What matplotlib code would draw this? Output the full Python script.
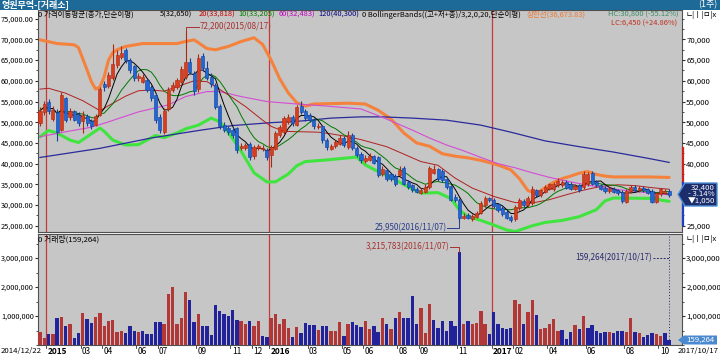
import datetime as dt
import numpy as np
import pandas as pd
import matplotlib
matplotlib.use('Agg')
import matplotlib.pyplot as plt
import matplotlib.transforms as mtrans
from matplotlib.patches import Rectangle, Polygon
from matplotlib.ticker import MultipleLocator

plt.rcParams['font.family'] = ['Noto Sans CJK KR', 'DejaVu Sans']

# weekly candles, first week 2014/12/22
start = dt.date(2014, 12, 22)
opens = [49800, 52500, 54800, 50800, 52500, 48200, 55800, 51200, 52600, 51800,
         50200, 51500, 50200, 49400, 51800, 59200, 58700, 60800, 63800, 65800,
         67400, 65000, 63500, 60600, 59800, 60200, 58600, 56600, 51300, 47700,
         53300, 57800, 58600, 59800, 61000, 64600, 61800, 58000, 66000, 63200,
         61000, 59000, 54000, 49400, 48600, 48200, 48500, 43800, 43800, 44800,
         41800, 43800, 43500, 43400, 42000, 43500, 46800, 47700, 50000, 51300,
         49400, 54000, 52600, 51800, 50600, 48800, 49000, 45800, 43600, 44200,
         44800, 46200, 44000, 47000, 43700, 42400, 40600, 41000, 41800, 41500,
         37500, 38400, 37400, 37000, 37200, 39000, 35500, 34800, 33900, 33000,
         33200, 34400, 37800, 38600, 38200, 36200, 34500, 32000, 31200, 27000,
         27600, 26600, 27200, 28000, 30000, 31600, 31200, 30200, 29400, 28400,
         27200, 26600, 29200, 31000, 30000, 30400, 33600, 32400, 33200, 34000,
         33800, 34800, 34800, 35600, 35200, 34000, 34800, 34400, 35000, 37800,
         35600, 34800, 34200, 33400, 34000, 33600, 33200, 30800, 33400, 34400,
         33600, 34200, 33800, 33400, 30800, 32600, 33000, 33500]
closes = [52800, 54500, 52800, 53000, 47600, 56500, 50500, 52800, 50600, 49800,
          51800, 49800, 49000, 51400, 58000, 58400, 61500, 64000, 66200, 66800,
          65000, 62600, 60600, 61200, 61000, 57800, 55800, 50500, 48100, 52800,
          57800, 58900, 60200, 62800, 64600, 62200, 57600, 65600, 63000, 60800,
          59200, 53800, 49000, 48200, 47600, 46800, 43300, 44300, 44400, 41600,
          44000, 44200, 43900, 41600, 44000, 47500, 48800, 51000, 51300, 49800,
          53600, 52500, 51000, 50500, 49000, 49200, 45600, 44000, 44200, 45200,
          46200, 44600, 46800, 43800, 42200, 40800, 41400, 41800, 40200, 37200,
          38800, 36200, 36200, 35000, 38500, 35200, 34400, 33600, 33200, 33700,
          34400, 38900, 38800, 36200, 36000, 34400, 31300, 31200, 27000, 27400,
          27000, 27400, 28200, 30400, 31600, 31200, 29800, 28900, 27800, 27000,
          26400, 29600, 31200, 30000, 31800, 34000, 32400, 33600, 34400, 35000,
          35000, 35700, 35600, 34200, 34000, 34600, 33600, 37600, 37500, 35200,
          34800, 34000, 33500, 34000, 33200, 32800, 31000, 33400, 34400, 33600,
          34200, 33600, 33000, 30800, 32800, 33800, 33450, 32400]
highs = [53600, 55200, 55600, 54000, 53200, 57200, 56000, 53400, 53000, 52400,
         52600, 52000, 50800, 52000, 58400, 60000, 62200, 68800, 67500, 68400,
         68000, 65400, 63800, 62000, 61600, 60600, 59000, 57000, 52000, 53400,
         58400, 59600, 60800, 63600, 72200, 65600, 62400, 66400, 66800, 64800,
         61800, 59400, 54400, 50000, 49200, 48800, 48900, 45000, 45000, 45200,
         44600, 44800, 44400, 43800, 44600, 48000, 49400, 51600, 52000, 51800,
         54200, 55200, 53200, 52200, 51000, 49800, 49400, 46200, 44800, 45800,
         46800, 46600, 48000, 47400, 44200, 42800, 42000, 42600, 42200, 41800,
         39400, 38800, 37800, 37400, 39500, 39400, 36000, 35200, 34400, 34200,
         35000, 39400, 39600, 39000, 38600, 36600, 34800, 32600, 31600, 28000,
         28000, 27800, 28600, 31000, 32200, 32000, 31600, 30600, 29800, 28800,
         27600, 30000, 31600, 31400, 32200, 34600, 34000, 34000, 34800, 35400,
         35600, 36500, 36000, 36000, 35600, 35200, 35200, 38200, 38000, 38200,
         36000, 35200, 34600, 34400, 34400, 34000, 33600, 33800, 34800, 34800,
         34600, 34600, 34200, 33800, 33200, 34200, 34000, 33800]
lows = [49200, 51800, 52000, 50200, 45500, 47800, 50000, 50600, 50200, 49200,
        47400, 49200, 48400, 49000, 51400, 57600, 58200, 60200, 63200, 65200,
        64400, 62000, 60000, 60000, 59400, 57200, 55200, 49800, 47300, 47200,
        52800, 57200, 58000, 59400, 60400, 61600, 56500, 57400, 62400, 60200,
        58600, 53200, 48400, 47600, 47000, 46200, 42600, 43200, 43200, 41000,
        41200, 43200, 43000, 41000, 39300, 43200, 46400, 47200, 49600, 49200,
        49000, 52000, 50400, 50000, 48400, 48400, 45000, 43400, 43200, 43800,
        44400, 44000, 43600, 43200, 41600, 40200, 40200, 40600, 39800, 36800,
        37000, 35800, 35800, 34600, 36800, 34800, 34000, 33200, 32800, 32600,
        32800, 34000, 37400, 35800, 35600, 34000, 31000, 30800, 25950, 26600,
        26600, 26200, 26800, 27800, 29600, 30800, 29400, 28400, 27400, 26600,
        26000, 26200, 28800, 29600, 29600, 30000, 32000, 32000, 32800, 33600,
        33400, 34400, 34400, 33800, 33600, 33600, 33200, 34000, 34600, 34800,
        34400, 33600, 33000, 33000, 32800, 32400, 30600, 30400, 33000, 33200,
        33200, 33200, 32600, 30400, 30400, 32200, 32600, 32000]
volume = [440000, 230000, 370000, 370000, 940000, 960000, 670000, 730000, 250000, 420000,
          1100000, 900000, 760000, 960000, 1100000, 660000, 830000, 870000, 450000, 480000,
          400000, 640000, 480000, 440000, 480000, 380000, 380000, 780000, 780000, 720000,
          1760000, 1990000, 740000, 940000, 1840000, 1540000, 780000, 1070000, 640000, 640000,
          340000, 1380000, 1180000, 1060000, 1000000, 1200000, 860000, 830000, 720000, 830000,
          670000, 830000, 310000, 270000, 920000, 1070000, 720000, 890000, 590000, 270000,
          610000, 420000, 760000, 690000, 690000, 520000, 670000, 660000, 480000, 480000,
          780000, 310000, 720000, 780000, 690000, 610000, 830000, 540000, 640000, 460000,
          940000, 740000, 540000, 940000, 1130000, 940000, 920000, 1700000, 730000, 1260000,
          420000, 1400000, 870000, 600000, 830000, 480000, 830000, 660000, 3215783, 730000,
          830000, 710000, 770000, 1170000, 730000, 380000, 1130000, 740000, 600000, 550000,
          600000, 1550000, 1400000, 720000, 1150000, 1550000, 1030000, 540000, 600000, 710000,
          900000, 480000, 520000, 210000, 450000, 690000, 540000, 1010000, 600000, 690000,
          480000, 420000, 450000, 450000, 400000, 500000, 480000, 450000, 920000, 450000,
          420000, 290000, 340000, 400000, 380000, 310000, 400000, 159264]

# indicator lines (week index, value)
ma20_wk = [0, 2, 6, 10, 14, 16, 20, 23, 26, 29, 32, 36, 39, 41, 44, 48, 52, 54, 57, 61,
           65, 68, 72, 75, 81, 85, 89, 93, 97, 101, 106, 111, 115, 119, 123, 127, 131,
           135, 139, 143, 147]
ma20_val = [58000, 58200, 57000, 55200, 52800, 54000, 56300, 57600, 57800, 57500, 58600,
            60000, 59800, 58600, 56600, 53800, 50500, 49000, 47800, 47700, 47600, 47200,
            46500, 45800, 44100, 42300, 40500, 39600, 36500, 34100, 32100, 30600, 30500,
            31300, 32500, 33600, 34500, 34900, 34700, 34200, 33818]
ma60_wk = [0, 6, 12, 16, 23, 30, 34, 39, 42, 47, 53, 60, 67, 75, 80, 87, 91, 95, 99,
           103, 107, 111, 115, 119, 124, 128, 133, 138, 143, 147]
ma60_val = [46500, 47700, 48800, 50100, 52500, 54200, 56200, 57400, 57400, 56200, 55000,
            54400, 53900, 53200, 51200, 48100, 46200, 44500, 43100, 41500, 40000, 39000,
            37800, 36700, 35600, 34800, 34000, 33400, 32900, 32483]
ma120_wk = [0, 14, 26, 37, 45, 54, 61, 68, 75, 80, 87, 95, 103, 110, 118, 126, 134, 142, 147]
ma120_val = [41500, 43700, 46200, 48000, 49200, 49900, 50300, 51000, 51300, 51300, 51000,
             50500, 49300, 47600, 45500, 44100, 42800, 41300, 40300]
upper_wk = [0, 4, 8, 9, 11, 12, 13, 14, 15, 16, 17, 18, 20, 24, 28, 32, 34, 36, 39, 41,
            44, 47, 50, 52, 54, 56, 58, 60, 62, 64, 68, 72, 76, 79, 82, 85, 88, 91, 94,
            97, 100, 103, 106, 108, 110, 112, 114, 116, 118, 120, 122, 124, 126, 128,
            130, 132, 134, 138, 142, 147]
upper_val = [69900, 69000, 68700, 68000, 62600, 59800, 58000, 58500, 61000, 65000, 66800,
             67500, 68300, 69000, 69000, 69000, 69500, 69900, 67800, 67500, 68300, 69500,
             70400, 68800, 65000, 60500, 57100, 54700, 53900, 54400, 54500, 54600, 54400,
             52900, 50800, 47400, 45000, 44200, 42400, 41800, 41400, 40800, 40000, 39300,
             38500, 36400, 33500, 32800, 34200, 35500, 36400, 37000, 37700, 38100, 37400,
             37000, 36800, 36800, 36800, 36674]
lower_wk = [0, 2, 4, 7, 9, 11, 14, 15, 17, 20, 23, 25, 27, 29, 32, 34, 37, 40, 42, 44,
            47, 50, 53, 55, 58, 60, 62, 67, 71, 74, 76, 79, 83, 86, 89, 93, 96, 98, 100,
            103, 106, 109, 111, 113, 115, 118, 122, 126, 130, 132, 134, 144, 145, 147]
lower_val = [46500, 48000, 47400, 45700, 45100, 46500, 48600, 47800, 45700, 44500, 44600,
             45700, 46800, 46300, 47400, 48400, 49300, 51000, 50100, 47600, 43000, 37800,
             35600, 35600, 37500, 39500, 40500, 40900, 41300, 41600, 39700, 38100, 36100,
             34400, 32900, 33000, 31600, 28800, 27200, 26300, 25200, 24000, 23600, 24300,
             25000, 25800, 26300, 27200, 28900, 31000, 31700, 31600, 31200, 30900]

W, H = 720, 357
def fx(x):
    return x / W
def fy(y):
    return 1 - y / H

n = len(closes)
wk = np.arange(n)
dates = [start + dt.timedelta(weeks=int(i)) for i in wk]
o = np.array(opens); c = np.array(closes); hi = np.array(highs); lo = np.array(lows)
vol = np.array(volume)
ma5 = pd.Series(c).rolling(5, min_periods=1).mean()
ma10 = pd.Series(c).rolling(10, min_periods=1).mean()

fig = plt.figure(figsize=(7.2, 3.57), dpi=100)
fig.patch.set_facecolor('white')
renderer = fig.canvas.get_renderer()

# title bar
fig.patches.append(Rectangle((0, fy(10)), 1, 10 / H, transform=fig.transFigure,
                             facecolor='#1d6a98', edgecolor='none'))
fig.text(fx(2), fy(5), '영원무역-[거래소]', color='white', fontsize=6.5,
         fontweight='bold', va='center')
fig.text(fx(717), fy(5), '(1주)', color='white', fontsize=6.5, va='center', ha='right')

axp = fig.add_axes([fx(38), fy(232), (682 - 38) / W, (232 - 10) / H])
axv = fig.add_axes([fx(38), fy(345), (682 - 38) / W, (345 - 234) / H])
bg = '#c6c6c6'
for a in (axp, axv):
    a.set_facecolor(bg)
    a.set_xlim(-0.47, 150.0)
    for s in a.spines.values():
        s.set_color('#505050')
        s.set_linewidth(0.8)

# year separators
for i in range(1, n):
    if dates[i].year != dates[i - 1].year and dates[i].month == 1:
        axp.axvline(i - 0.5, color='#c83a3a', lw=0.9, zorder=1)
        axv.axvline(i - 0.5, color='#c83a3a', lw=0.9, zorder=1)

# indicator lines
axp.plot(upper_wk, upper_val, color='#f5823c', lw=2.2, zorder=2, solid_capstyle='round')
axp.plot(lower_wk, lower_val, color='#3fe43f', lw=2.2, zorder=2, solid_capstyle='round')
axp.plot(ma120_wk, ma120_val, color='#2a2a9c', lw=0.9, zorder=3)
axp.plot(ma60_wk, ma60_val, color='#d44cd4', lw=0.8, zorder=3)
axp.plot(ma20_wk, ma20_val, color='#b02020', lw=0.7, zorder=3)
axp.plot(wk, ma10, color='#007800', lw=0.7, zorder=3)
axp.plot(wk, ma5, color='black', lw=0.7, zorder=3)

# candles
up = c >= o
body_col = np.where(up, '#dc3c1e', '#1f66d6')
edge_col = np.where(up, '#a82810', '#12409a')
axp.vlines(wk, lo, hi, colors=edge_col, lw=0.8, zorder=4)
axp.bar(wk, np.maximum(np.abs(c - o), 150), bottom=np.minimum(o, c), width=0.72,
        color=body_col, edgecolor=edge_col, linewidth=0.4, zorder=5)

axp.set_ylim(23500, 77100)
axp.set_yticks(range(25000, 75001, 5000))
axp.set_yticklabels([f'{v:,.2f}' for v in range(25000, 75001, 5000)])
axp.yaxis.set_minor_locator(MultipleLocator(2500))
axp.tick_params(axis='y', which='major', length=2.5, pad=0.5, labelsize=5.3,
                direction='out', color='#303030')
axp.tick_params(axis='y', which='minor', length=1.5, color='#303030')
axp.set_xticks([])

# right price axis; 30,000 and 35,000 sit under the current-price box
axr = axp.twinx()
axr.set_ylim(axp.get_ylim())
rt = list(range(25000, 70001, 5000))
axr.set_yticks(rt)
axr.set_yticklabels(['' if v in (30000, 35000) else f'{v:,}' for v in rt])
axr.yaxis.set_minor_locator(MultipleLocator(2500))
axr.tick_params(axis='y', which='major', length=2.5, pad=0.5, labelsize=5.6, color='#303030')
axr.tick_params(axis='y', which='minor', length=1.5, color='#303030')
for s in axr.spines.values():
    s.set_visible(False)

# annotations on price panel
ann_red = '#a83030'
axp.plot([34, 34, 37.1], [72200, 73000, 73000], color=ann_red, lw=0.7, zorder=6)
axp.text(37.4, 73000, f'{highs[34]:,}({dates[34]:%Y/%m/%d})', color=ann_red,
         fontsize=5.8, va='center', ha='left')
low_i = int(np.argmin(lo))
axp.plot([95.2, 98, 98], [24450, 24450, lows[low_i]], color='#283c8c', lw=0.7, zorder=6)
axp.text(95.0, 24450, f'{lows[low_i]:,}({dates[low_i]:%Y/%m/%d})', color='#283c8c',
         fontsize=5.8, va='center', ha='right')

# legend row, pieces placed one after another
legend_parts = [
    (38, '0 가격이동평균(종가,단순이평)', 'black'),
    (160, f'5({ma5.iloc[-1]:,.0f})', 'black'),
    (199, f'20({ma20_val[-1]:,})', '#c00000'),
    (228, f'10({ma10.iloc[-1]:,.0f})', '#008000'),
    (269, f'60({ma60_val[-1]:,})', '#c000c0'),
    (307, f'120({ma120_val[-1]:,})', '#000080'),
    (350, '0 BollingerBands((고+저+종)/3,2,0,20,단순이평)', 'black'),
    (527, '상한선(36,673.83)', '#f07830'),
]
end = 0
for x, t, col in legend_parts:
    x = max(x, end + 3)
    txt = fig.text(fx(x), fy(15), t, color=col, fontsize=5.4, va='center', ha='left')
    end = txt.get_window_extent(renderer).x1
fig.text(fx(679), fy(15), 'HC:30,800 (-55.12%)', color='#3a8c6a', fontsize=5.4,
         va='center', ha='right')
fig.text(fx(677), fy(24), 'LC:6,450 (+24.86%)', color='#c03020', fontsize=5.4,
         va='center', ha='right')

# volume panel
vup = np.r_[True, c[1:] >= c[:-1]]
axv.bar(wk, vol, width=0.78, color=np.where(vup, '#b23838', '#22229a'),
        edgecolor='none', zorder=3)
axv.set_ylim(0, 3830000)
vt = [1000000, 2000000, 3000000]
axv.set_yticks(vt)
axv.set_yticklabels([f'{v:,}' for v in vt])
axv.yaxis.set_minor_locator(MultipleLocator(500000))
axv.tick_params(axis='y', which='major', length=2.5, pad=0.5, labelsize=5.3, color='#303030')
axv.tick_params(axis='y', which='minor', length=1.5, color='#303030')
axvr = axv.twinx()
axvr.set_ylim(axv.get_ylim())
axvr.set_yticks(vt)
axvr.set_yticklabels([f'{v:,}' for v in vt])
axvr.yaxis.set_minor_locator(MultipleLocator(500000))
axvr.tick_params(axis='y', which='major', length=2.5, pad=0.5, labelsize=5.6, color='#303030')
axvr.tick_params(axis='y', which='minor', length=1.5, color='#303030')
for s in axvr.spines.values():
    s.set_visible(False)

top_v = int(np.argmax(vol))
axv.plot([95.9, 98, 98], [3380000, 3380000, vol[top_v]], color=ann_red, lw=0.7, zorder=6)
axv.text(95.7, 3380000, f'{vol[top_v]:,}({dates[top_v]:%Y/%m/%d})', color=ann_red,
         fontsize=5.8, va='center', ha='right')
axv.axvline(n - 1, color='#28286e', lw=0.7, ls=(0, (1, 2)), zorder=2)
axv.plot([143.3, n - 1], [3000000, 3000000], color='#28286e', lw=0.7, ls=(0, (2, 1.5)))
axv.text(143.1, 3000000, f'{vol[-1]:,}(2017/10/17)', color='#28286e', fontsize=5.8,
         va='center', ha='right')
fig.text(fx(38), fy(239), f'0 거래량({vol[-1]:,})', color='black', fontsize=5.6,
         va='center', ha='left')

# date labels
axv.set_xticks([])
blend = mtrans.blended_transform_factory(axv.transData, fig.transFigure)
prev = -10
for i in range(1, n):
    if dates[i].month == dates[i - 1].month:
        continue
    is_year = dates[i].month == 1
    if not is_year and i - prev < 5:
        continue
    prev = i
    txt = str(dates[i].year) if is_year else f'{dates[i].month:02d}'
    axv.plot([i - 0.5, i - 0.5], [fy(345), fy(348)], transform=blend, color='#303030',
             lw=0.6, clip_on=False)
    fig.text(i - 0.2, fy(351.5), txt, transform=blend, fontsize=6,
             fontweight='bold' if is_year else 'normal', va='center', ha='left')
fig.text(fx(1), fy(351.5), f'{start:%Y/%m/%d}', fontsize=5.6, va='center', ha='left')
fig.text(fx(719), fy(351.5), '2017/10/17', fontsize=5.6, va='center', ha='right')

# right-side markers
fig.lines.append(plt.Line2D([fx(682.5), fx(682.5)], [fy(148), fy(183)], color='#d02020',
                            lw=1.6, transform=fig.transFigure))
fig.lines.append(plt.Line2D([fx(682.5), fx(682.5)], [fy(183), fy(225)], color='#2040c0',
                            lw=1.6, transform=fig.transFigure))
fig.patches.append(Polygon([(fx(678), fy(194.5)), (fx(685), fy(183)), (fx(717), fy(183)),
                            (fx(717), fy(206)), (fx(685), fy(206))], closed=True,
                           transform=fig.transFigure, facecolor='#1c2d6c',
                           edgecolor='#4f8fd8', lw=1.0, zorder=5))
for k, t in enumerate([f'{closes[-1]:,}', '- 3.14%', f'▼{closes[-2] - closes[-1]:,.0f}']):
    fig.text(fx(715), fy(187.5 + 7 * k), t, color='white', fontsize=5.6, va='center',
             ha='right', zorder=6)
fig.patches.append(Polygon([(fx(678), fy(340)), (fx(684), fy(335.5)), (fx(717), fy(335.5)),
                            (fx(717), fy(344.5)), (fx(684), fy(344.5))], closed=True,
                           transform=fig.transFigure, facecolor='#4a88d0', edgecolor='none'))
fig.text(fx(715), fy(340), f'{vol[-1]:,}', color='white', fontsize=5.6, va='center', ha='right')
for y in (15, 239):
    fig.text(fx(686), fy(y), 'ㄴ|ㅣ|ㅁ|x', color='black', fontsize=5.6, va='center', ha='left')

fig.savefig('out.png', dpi=100)
